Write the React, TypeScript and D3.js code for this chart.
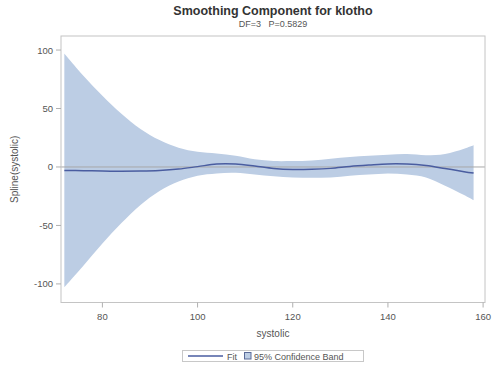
import React from "react";
import * as d3 from "d3";

// values (systolic vs spline component)
const systolic = [72, 76, 80, 84, 88, 92, 96, 100, 104, 108, 112, 116, 120, 124, 128, 132, 136, 140, 144, 148, 152, 156, 158];
const fit = [-3, -3.2, -3.5, -3.6, -3.5, -3, -1.8, 0.3, 2.5, 2.5, 0.8, -1.3, -2.2, -2, -1.2, 0.4, 1.6, 2.6, 2.5, 1.2, -1.3, -4, -5.2];
const upper = [97, 78, 61, 45.5, 32.5, 23, 16.5, 13, 11.5, 9.5, 6.5, 5, 5, 5.5, 7, 8.5, 9.5, 10.5, 11, 10, 11, 15.5, 18.5];
const lower = [-103, -84.5, -65.5, -48, -32.5, -20.5, -12.5, -7.5, -5.5, -5, -6.5, -8, -9, -9.3, -9, -7.5, -6.5, -5.5, -6.5, -9, -16, -24, -28.5];

const xTicks = [80, 100, 120, 140, 160];
const yTicks = [-100, -50, 0, 50, 100];

const W = 492;
const H = 366;
const plot = { left: 61, right: 485, top: 36, bottom: 302.5 };
const font = "'Liberation Sans', Arial, sans-serif";
const textGray = "#555";

const App = () => {
  const x = d3.scaleLinear().domain([71.3, 160.4]).range([plot.left, plot.right]);
  const y = d3.scaleLinear().domain([-115.9, 112]).range([plot.bottom, plot.top]);

  const rows = systolic.map((s, i) => ({ s, f: fit[i], lo: lower[i], hi: upper[i] }));

  const band = d3
    .area<any>()
    .x((d) => x(d.s))
    .y0((d) => y(d.lo))
    .y1((d) => y(d.hi))
    .curve(d3.curveCatmullRom.alpha(0.5))(rows);

  const line = d3
    .line<any>()
    .x((d) => x(d.s))
    .y((d) => y(d.f))
    .curve(d3.curveCatmullRom.alpha(0.5))(rows);

  const midX = (plot.left + plot.right) / 2;

  return (
    <div style={{ position: "absolute", left: 0, top: 0 }}>
      <svg width={W} height={H} style={{ display: "block", background: "#fff" }} fontFamily={font}>
        {/* titles */}
        <text x={midX} y={15} textAnchor="middle" fontSize={12.5} fontWeight="bold" fill="#333">
          Smoothing Component for klotho
        </text>
        <text x={midX} y={27} textAnchor="middle" fontSize={9} fill={textGray} xmlSpace="preserve">
          {"DF=3   P=0.5829"}
        </text>

        {/* data */}
        <path d={band ?? ""} fill="#bccde4" />
        <line x1={plot.left} x2={plot.right} y1={y(0)} y2={y(0)} stroke="#a8a8a8" strokeWidth={1} />
        <path d={line ?? ""} fill="none" stroke="#4a5da0" strokeWidth={1.5} />

        {/* frame */}
        <rect
          x={plot.left}
          y={plot.top}
          width={plot.right - plot.left}
          height={plot.bottom - plot.top}
          fill="none"
          stroke="#c4c4c4"
          strokeWidth={1}
        />

        {/* y axis */}
        {yTicks.map((t) => (
          <g key={t}>
            <line x1={plot.left - 5} x2={plot.left} y1={y(t)} y2={y(t)} stroke="#b0b0b0" />
            <text x={plot.left - 8} y={y(t) + 3.5} textAnchor="end" fontSize={9.5} fill={textGray}>
              {t}
            </text>
          </g>
        ))}
        <text
          transform={`translate(18, ${(plot.top + plot.bottom) / 2}) rotate(-90)`}
          textAnchor="middle"
          fontSize={10}
          fill={textGray}
        >
          Spline(systolic)
        </text>

        {/* x axis */}
        {xTicks.map((t) => (
          <g key={t}>
            <line x1={x(t)} x2={x(t)} y1={plot.bottom} y2={plot.bottom + 5} stroke="#b0b0b0" />
            <text x={x(t)} y={plot.bottom + 17} textAnchor="middle" fontSize={9.5} fill={textGray}>
              {t}
            </text>
          </g>
        ))}
        <text x={midX} y={337} textAnchor="middle" fontSize={10} fill={textGray}>
          systolic
        </text>

        {/* legend */}
        <rect x={182.5} y={350.5} width={181} height={11} fill="none" stroke="#c8c8c8" />
        <line x1={188} x2={223} y1={356} y2={356} stroke="#4a5da0" strokeWidth={1.5} />
        <text x={227} y={359.5} fontSize={9} fill={textGray}>
          Fit
        </text>
        <rect x={244.5} y={352.5} width={6.5} height={6.5} fill="#bccde4" stroke="#5a6a98" strokeWidth={1} />
        <text x={254} y={359.5} fontSize={9} fill={textGray}>
          95% Confidence Band
        </text>
      </svg>
    </div>
  );
};

export default App;
